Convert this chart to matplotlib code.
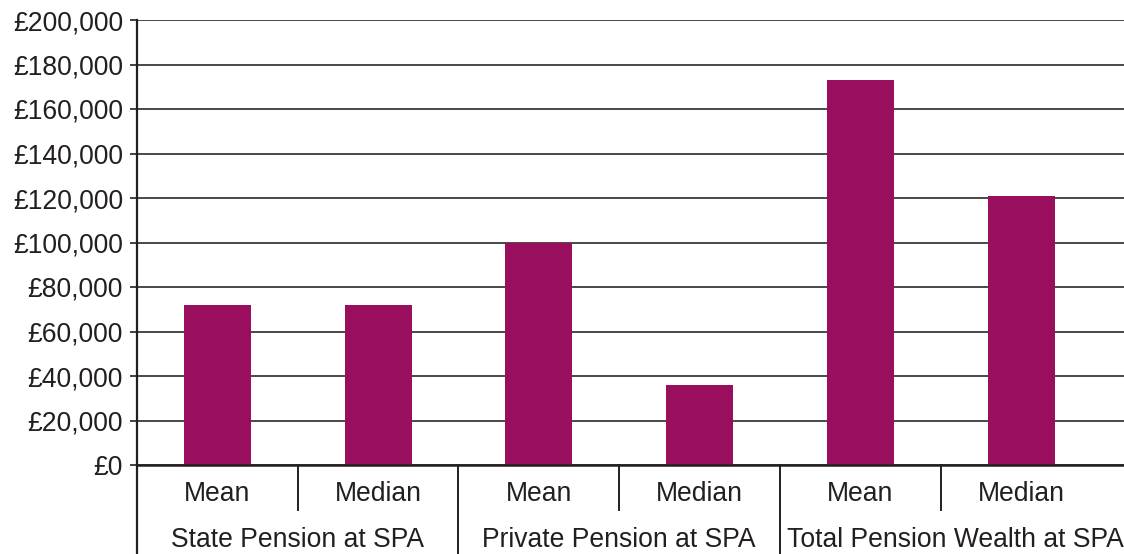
import numpy as np
import matplotlib.pyplot as plt
import matplotlib.transforms as mtransforms

plt.rcParams['font.family'] = ['Liberation Sans', 'DejaVu Sans']

groups = ["State Pension at SPA", "Private Pension at SPA", "Total Pension Wealth at SPA"]
stats = ["Mean", "Median"]
values = [72000, 72000, 100000, 36000, 173000, 121000]
yticks = [0, 20000, 40000, 60000, 80000, 100000, 120000, 140000, 160000, 180000, 200000]

bar_color = '#990F5D'
text_color = '#231F20'
fs = 19.1

fig = plt.figure(figsize=(11.24, 5.54), dpi=100)
ax = fig.add_axes([137 / 1124, 1 - 465 / 554, 1 - 137 / 1124, 445 / 554])

x = np.arange(len(values))
ax.bar(x, values, width=0.417, color=bar_color, zorder=3)

# plot area runs a little past the last category (cut at the right edge)
ax.set_xlim(-0.5, len(values) - 0.5 + 0.14)
ax.set_ylim(0, 200000)
ax.set_yticks(yticks)
ax.set_yticklabels(["£0" if v == 0 else f"£{v:,.0f}" for v in yticks],
                   fontsize=fs, color=text_color)
ax.tick_params(axis='y', length=5, width=1.2, color=text_color, pad=5)
ax.set_xticks([])
ax.yaxis.grid(True, color='#3a3a3a', linewidth=1.3, zorder=0)
ax.set_axisbelow(True)

for s in ['top', 'right']:
    ax.spines[s].set_visible(False)
ax.spines['left'].set_linewidth(1.6)
ax.spines['left'].set_color(text_color)
ax.spines['bottom'].set_linewidth(1.8)
ax.spines['bottom'].set_color(text_color)
ax.spines['bottom'].set_zorder(4)

# two level category axis below the plot
trans = mtransforms.blended_transform_factory(ax.transData, ax.transAxes)
px = 1 / 445  # one pixel in axes fraction (vertical)
for i, v in enumerate(values):
    ax.text(i, -29 * px, stats[i % 2], transform=trans, ha='center', va='center',
            fontsize=fs, color=text_color)
for g, name in enumerate(groups):
    if g == len(groups) - 1:
        # last group label is squeezed against the right edge
        ax.annotate(name, xy=(2 * g - 0.5, -75 * px), xycoords=trans,
                    xytext=(5, 0), textcoords='offset points', ha='left',
                    va='center', fontsize=fs, color=text_color)
    else:
        ax.text(2 * g + 0.5, -75 * px, name, transform=trans, ha='center', va='center',
                fontsize=fs, color=text_color)

# separators
for i in range(len(values)):
    left = i - 0.5
    if i % 2 == 0:
        ax.plot([left, left], [0, -89 * px], transform=trans, color=text_color,
                lw=1.4 if i > 0 else 1.6, clip_on=False)
    else:
        ax.plot([left, left], [0, -45 * px], transform=trans, color=text_color,
                lw=1.4, clip_on=False)

fig.savefig('out.png', dpi=100)
